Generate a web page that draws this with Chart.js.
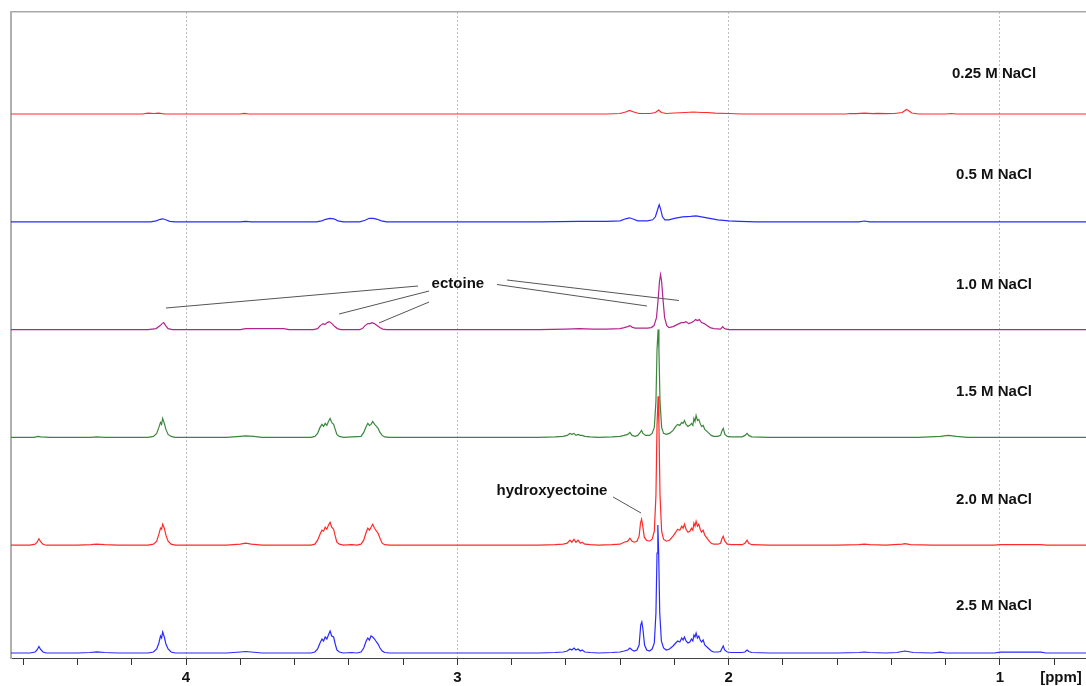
<!DOCTYPE html>
<html>
<head>
<meta charset="utf-8">
<script src="https://cdn.jsdelivr.net/npm/chart.js@4/dist/chart.umd.min.js"></script>
<style>
  html, body { margin: 0; padding: 0; background: #ffffff; }
  #wrap { width: 1086px; height: 686px; }
</style>
</head>
<body>
<div id="wrap"><canvas id="nmr" width="1086" height="686"></canvas></div>
<script>
// 1H NMR spectra of cell extracts grown at increasing NaCl concentrations.
// Each trace: [chemical shift (ppm), intensity (a.u.)]

const saltLabels = ['0.25 M NaCl', '0.5 M NaCl', '1.0 M NaCl', '1.5 M NaCl', '2.0 M NaCl', '2.5 M NaCl'];

const spec025 = [
  [4.645,0],[4.50,0],[4.35,0],[4.16,0],[4.14,0.8],[4.12,0.5],[4.10,0.8],[4.08,0],[3.80,0],[3.785,0.7],[3.77,0],
  [2.70,0],[2.45,0],[2.40,0.5],[2.38,2],[2.365,3.5],[2.35,2],[2.33,0.5],[2.29,0.5],[2.27,1.5],[2.258,4],[2.248,1.5],
  [2.23,0.5],[2.20,1],[2.16,1.5],[2.13,2],[2.10,1.5],[2.08,1.5],[2.05,0.8],[2.00,0.5],[1.95,0],[1.57,0],[1.55,0.5],
  [1.53,0.3],[1.50,0.8],[1.47,0.3],[1.45,0.6],[1.42,0.3],[1.39,0.5],[1.36,1.5],[1.345,4.5],[1.335,3],[1.325,1],
  [1.30,0],[1.20,0],[1.18,0.5],[1.16,0],[0.683,0]
];

const spec05 = [
  [4.645,0],[4.13,0],[4.11,1],[4.095,2.5],[4.085,3],[4.075,2],[4.06,0.5],[4.04,0],[3.80,0],[3.78,0.5],[3.76,0],
  [3.52,0],[3.50,1],[3.485,2.5],[3.47,3.5],[3.455,3],[3.44,1],[3.42,0],
  [3.36,0],[3.34,1.5],[3.325,3.5],[3.31,3.5],[3.295,2.5],[3.28,1],[3.26,0],
  [2.70,0],[2.55,0.5],[2.45,0.5],[2.40,1],[2.38,3],[2.365,4],[2.35,2.5],[2.335,1],[2.30,1],[2.28,2],[2.27,5],
  [2.262,12],[2.256,17],[2.250,12],[2.244,5],[2.235,2],[2.22,2],[2.20,3.5],[2.17,5],[2.14,5.5],[2.12,6],[2.10,5],
  [2.07,3.5],[2.04,2],[2.00,1],[1.96,0.5],[1.90,0],[1.52,0],[1.50,0.8],[1.48,0],[0.683,0]
];

const spec10 = [
  [4.645,0],[4.14,0],[4.11,1],[4.095,4],[4.088,6],[4.082,7],[4.075,4],[4.066,1],[4.05,0],[3.80,0],[3.78,1],[3.64,1],[3.62,0],
  [3.53,0],[3.515,1],[3.505,4],[3.495,6],[3.488,5],[3.480,7],[3.472,8],[3.462,6],[3.452,3],[3.442,1],[3.43,0],
  [3.36,0],[3.35,1],[3.34,4],[3.33,6],[3.322,6],[3.314,7],[3.306,6],[3.296,4],[3.286,2],[3.275,0.5],[3.26,0],
  [2.70,0],[2.60,0.5],[2.55,1],[2.50,0.5],[2.45,0.5],[2.40,1],[2.385,2],[2.372,3],[2.364,4],[2.356,2.5],[2.345,1.5],
  [2.32,1.5],[2.30,1.5],[2.285,2],[2.275,4],[2.266,12],[2.260,30],[2.255,48],[2.251,55],[2.247,48],[2.242,30],
  [2.236,12],[2.228,4],[2.22,2],[2.205,3],[2.19,5],[2.175,7],[2.165,7],[2.157,8],[2.148,6],[2.138,7],[2.130,8],
  [2.122,10],[2.115,9],[2.108,10],[2.100,7],[2.090,6],[2.080,4],[2.068,2],[2.055,1],[2.03,0.5],[2.022,3],[2.015,1],
  [2.00,0],[0.683,0]
];

const spec15 = [
  [4.645,0],[4.56,0],[4.545,1],[4.535,0.5],[4.50,0],[4.35,0],[4.33,0.5],[4.30,0],
  [4.14,0],[4.12,1],[4.108,4],[4.100,10],[4.094,15],[4.090,13],[4.086,19],[4.080,14],[4.074,8],[4.066,3],[4.055,1],[4.04,0],
  [3.85,0],[3.80,1],[3.78,1.5],[3.75,1],[3.72,0],
  [3.54,0],[3.525,1],[3.515,4],[3.506,10],[3.499,13],[3.493,11],[3.487,14],[3.481,12],[3.475,16],[3.469,19],[3.463,15],
  [3.456,13],[3.450,8],[3.444,3],[3.435,1],[3.42,0],
  [3.355,1],[3.345,5],[3.336,11],[3.330,14],[3.324,12],[3.318,13],[3.312,16],[3.305,13],[3.298,11],[3.292,9],[3.285,5],
  [3.277,2],[3.268,0.5],[3.25,0],
  [2.70,0],[2.64,0.5],[2.61,1],[2.595,2],[2.585,4],[2.578,3],[2.570,4],[2.563,2],[2.555,3],[2.547,2],[2.540,2],[2.530,1],
  [2.51,0.5],[2.48,0],[2.43,0.5],[2.40,1],[2.385,2],[2.372,3],[2.364,5],[2.356,2],[2.345,1],[2.335,2],[2.326,5],[2.321,7],
  [2.316,4],[2.306,2],[2.292,2],[2.282,4],[2.274,10],[2.268,36],[2.264,88],[2.260,108],[2.257,88],[2.253,36],[2.247,10],
  [2.240,4],[2.230,3],[2.218,4],[2.205,7],[2.195,11],[2.188,13],[2.180,12],[2.173,15],[2.168,14],[2.163,17],[2.157,13],
  [2.150,11],[2.143,12],[2.137,14],[2.132,12],[2.128,19],[2.124,16],[2.120,22],[2.115,17],[2.110,18],[2.105,14],[2.100,11],
  [2.094,12],[2.088,8],[2.080,6],[2.072,4],[2.064,2],[2.055,1],[2.040,1],[2.030,2],[2.024,7],[2.020,9],[2.014,3],[2.005,1],
  [1.99,0.5],[1.95,0.5],[1.940,2],[1.932,4],[1.926,2],[1.915,0.5],[1.85,0],[1.30,0],[1.22,1],[1.19,2],[1.16,1],[1.12,0],
  [0.683,0]
];

const spec20 = [
  [4.645,0],[4.575,0],[4.556,1],[4.549,3],[4.542,6.5],[4.536,3.5],[4.527,1],[4.515,0],
  [4.40,0],[4.35,0.5],[4.33,1],[4.30,0.5],[4.25,0],
  [4.14,0],[4.12,1],[4.108,4],[4.100,11],[4.094,17],[4.090,16],[4.086,21],[4.080,17],[4.074,10],[4.066,4],[4.055,1],[4.04,0],
  [3.85,0],[3.80,1],[3.78,2],[3.76,1],[3.72,0],
  [3.54,0],[3.525,1],[3.515,5],[3.506,11],[3.499,15],[3.493,14],[3.487,18],[3.481,16],[3.475,20],[3.469,23],[3.463,18],
  [3.456,16],[3.450,9],[3.444,3],[3.435,1],[3.42,0],[3.39,0.5],[3.37,0],
  [3.355,1],[3.345,5],[3.336,13],[3.330,17],[3.324,15],[3.318,18],[3.312,21],[3.305,17],[3.298,14],[3.292,12],[3.285,7],
  [3.277,2],[3.268,0.5],[3.25,0],
  [3.10,0],[2.70,0],[2.64,0.5],[2.61,1],[2.595,2],[2.585,5],[2.578,3],[2.570,6],[2.563,3],[2.555,5],[2.547,2],[2.540,3],
  [2.530,1],[2.51,0.5],[2.48,0],[2.43,0.5],[2.40,1],[2.385,3],[2.372,4],[2.364,7],[2.356,4],[2.348,3],[2.338,4],[2.330,9],
  [2.325,22],[2.321,26],[2.317,20],[2.311,8],[2.303,5],[2.292,4],[2.282,6],[2.274,14],[2.268,50],[2.264,120],[2.260,149],
  [2.257,120],[2.253,50],[2.247,14],[2.240,6],[2.230,4],
  [2.218,5],[2.205,9],[2.195,13],[2.188,16],[2.180,15],[2.173,19],[2.168,17],[2.163,21],[2.157,16],[2.150,13],[2.143,14],
  [2.137,17],[2.132,15],[2.128,22],[2.124,19],[2.120,24],[2.115,19],[2.110,21],[2.105,16],[2.100,13],[2.094,15],[2.088,10],
  [2.080,7],[2.072,4],[2.064,2],[2.055,1],[2.040,1],[2.030,2],[2.024,7],[2.020,9],[2.014,4],[2.005,1],[1.99,0.5],[1.95,0.5],
  [1.940,2],[1.932,5],[1.926,2],[1.915,0.5],[1.85,0],[1.60,0],[1.52,0.5],[1.50,1],[1.48,0.5],[1.42,0],[1.36,1],[1.35,1.5],
  [1.33,0.5],[1.25,0],[1.02,0],[1.00,0.5],[0.85,0.5],[0.83,0],[0.683,0]
];

const spec25 = [
  [4.645,0],[4.575,0],[4.556,1],[4.549,3],[4.542,6.5],[4.536,3.5],[4.527,1],[4.515,0],
  [4.40,0],[4.354,0.5],[4.328,1.2],[4.30,0.5],[4.25,0],
  [4.14,0],[4.12,1],[4.108,4],[4.100,10],[4.094,17],[4.090,15],[4.086,21],[4.080,16],[4.074,9],[4.066,4],[4.055,1],[4.04,0],
  [3.85,0],[3.80,1],[3.78,1.5],[3.76,1],[3.72,0],
  [3.54,0],[3.525,1],[3.515,4],[3.506,10],[3.499,14],[3.493,12],[3.487,16],[3.481,14],[3.475,18],[3.469,22],[3.463,17],
  [3.456,16],[3.450,9],[3.444,3],[3.435,1],[3.42,0],[3.39,0.5],[3.37,0],
  [3.355,1],[3.345,5],[3.336,12],[3.330,15],[3.324,13],[3.318,17],[3.312,16],[3.305,14],[3.298,11],[3.292,9],[3.285,5],
  [3.277,2],[3.268,0.5],[3.25,0],
  [3.10,0],[2.70,0],[2.64,0.5],[2.61,1],[2.595,2],[2.585,4],[2.578,3],[2.570,5],[2.563,3],[2.555,4],[2.547,2],[2.540,3],
  [2.530,1],[2.51,0.5],[2.48,0],[2.43,0.5],[2.40,1],[2.385,2],[2.372,3],[2.364,5],[2.356,3],[2.348,2],[2.338,3],[2.330,8],
  [2.324,28],[2.320,31],[2.316,24],[2.310,8],[2.302,3],[2.292,2],[2.282,4],[2.274,10],[2.268,40],[2.264,100],[2.261,128],
  [2.258,100],[2.254,40],[2.248,12],[2.240,5],[2.230,3],
  [2.218,4],[2.205,7],[2.195,10],[2.188,12],[2.180,11],[2.173,15],[2.168,13],[2.163,16],[2.157,12],[2.150,10],[2.143,11],
  [2.137,14],[2.132,12],[2.128,18],[2.124,16],[2.120,20],[2.115,15],[2.110,17],[2.105,13],[2.100,11],[2.094,13],[2.088,8],
  [2.080,6],[2.072,4],[2.064,2],[2.055,1],[2.040,1],[2.030,1.5],[2.024,5],[2.020,7],[2.015,3],[2.005,1],[1.99,0.5],
  [1.95,0.5],[1.940,1],[1.932,3],[1.926,1.5],[1.915,0.5],[1.85,0],[1.60,0],[1.52,0.5],[1.50,1],[1.48,0.5],[1.42,0],
  [1.38,0.5],[1.36,1.5],[1.35,2],[1.34,1.5],[1.32,0.5],[1.25,0],[1.22,0.8],[1.20,0],[1.02,0],[1.00,0.8],[0.85,0.8],
  [0.83,0],[0.683,0]
];

const spectra = [spec025, spec05, spec10, spec15, spec20, spec25];
const traceColors = ['#ff2a2a', '#2a2aff', '#b4248f', '#3c873c', '#ff2a2a', '#2a2aff'];

// Layout of the stacked display
const PPM_LEFT = 4.645, PPM_RIGHT = 0.683;
const STACK_STEP = 107.8;                   // vertical spacing between traces
const labelLift = [40, 47, 45, 46, 45, 47]; // height of each salt label above its trace
const LABEL_PPM = 1.022;

// Compound annotations (ppm, level on the stacked scale)
const compoundNotes = [
  { text: 'ectoine', ppm: 2.998, level: 369 },
  { text: 'hydroxyectoine', ppm: 2.651, level: 162 }
];
const pointerLines = [
  [4.074, 345, 3.145, 367],
  [3.436, 339, 3.104, 362],
  [3.289, 330, 3.104, 351],
  [2.817, 373, 2.183, 352.5],
  [2.854, 368.5, 2.301, 347],
  [2.426, 156, 2.323, 140]
];

const isWhole = v => Math.abs(v - Math.round(v)) < 1e-6;
const FONT = '"Liberation Sans", Arial, Helvetica, sans-serif';

const datasets = spectra.map((s, i) => {
  const lift = (spectra.length - 1 - i) * STACK_STEP;
  return {
    label: saltLabels[i],
    data: s.map(([p, v]) => ({ x: p, y: v + lift })),
    borderColor: traceColors[i],
    borderWidth: 1.2,
    pointRadius: 0,
    tension: 0,
    fill: false,
    clip: false
  };
});

const annotate = {
  id: 'annotate',
  afterDatasetsDraw(chart) {
    const { ctx, scales: { x, y } } = chart;
    ctx.save();
    ctx.strokeStyle = '#555';
    ctx.lineWidth = 1;
    for (const [p1, l1, p2, l2] of pointerLines) {
      ctx.beginPath();
      ctx.moveTo(x.getPixelForValue(p1), y.getPixelForValue(l1));
      ctx.lineTo(x.getPixelForValue(p2), y.getPixelForValue(l2));
      ctx.stroke();
    }
    ctx.fillStyle = '#111';
    ctx.textAlign = 'center';
    ctx.textBaseline = 'middle';
    ctx.font = 'bold 15px ' + FONT;
    for (const n of compoundNotes) {
      ctx.fillText(n.text, x.getPixelForValue(n.ppm), y.getPixelForValue(n.level));
    }
    saltLabels.forEach((t, i) => {
      const lift = (spectra.length - 1 - i) * STACK_STEP + labelLift[i];
      ctx.fillText(t, x.getPixelForValue(LABEL_PPM), y.getPixelForValue(lift));
    });
    // unit label at the end of the shift axis
    ctx.fillText('[ppm]', x.getPixelForValue(0.775), x.top + 19.5);
    ctx.restore();
  }
};

new Chart(document.getElementById('nmr'), {
  type: 'line',
  data: { datasets },
  plugins: [annotate],
  options: {
    responsive: false,
    animation: false,
    devicePixelRatio: 1,
    events: [],
    layout: { padding: { left: 11, top: 12, right: 0, bottom: -4 } },
    plugins: { legend: { display: false }, tooltip: { enabled: false } },
    scales: {
      x: {
        type: 'linear',
        position: 'bottom',
        reverse: true,
        min: PPM_RIGHT,
        max: PPM_LEFT,
        ticks: {
          stepSize: 0.2,
          includeBounds: false,
          autoSkip: false,
          maxRotation: 0,
          padding: 5,
          color: '#111',
          font: { family: FONT, size: 15, weight: 'bold', lineHeight: '15px' },
          callback: v => (isWhole(v) ? String(Math.round(v)) : '')
        },
        grid: {
          display: true,
          drawOnChartArea: true,
          drawTicks: true,
          tickLength: 7,
          tickColor: '#333',
          tickWidth: 1,
          lineWidth: 1,
          color: c => (c.tick && isWhole(c.tick.value) ? '#bdbdbd' : 'rgba(0,0,0,0)')
        },
        border: { display: true, color: '#444', width: 1, dash: [2, 2] }
      },
      xTop: {
        type: 'linear',
        position: 'top',
        reverse: true,
        min: PPM_RIGHT,
        max: PPM_LEFT,
        ticks: { display: false },
        grid: { display: true, drawOnChartArea: false, drawTicks: false },
        border: { display: true, color: '#a8a8a8', width: 1.5 }
      },
      y: {
        type: 'linear',
        position: 'left',
        min: -5,
        max: 641,
        ticks: { display: false },
        grid: { display: true, drawOnChartArea: false, drawTicks: false },
        border: { display: true, color: '#b0b0b0', width: 2 }
      }
    }
  }
});
</script>
</body>
</html>
